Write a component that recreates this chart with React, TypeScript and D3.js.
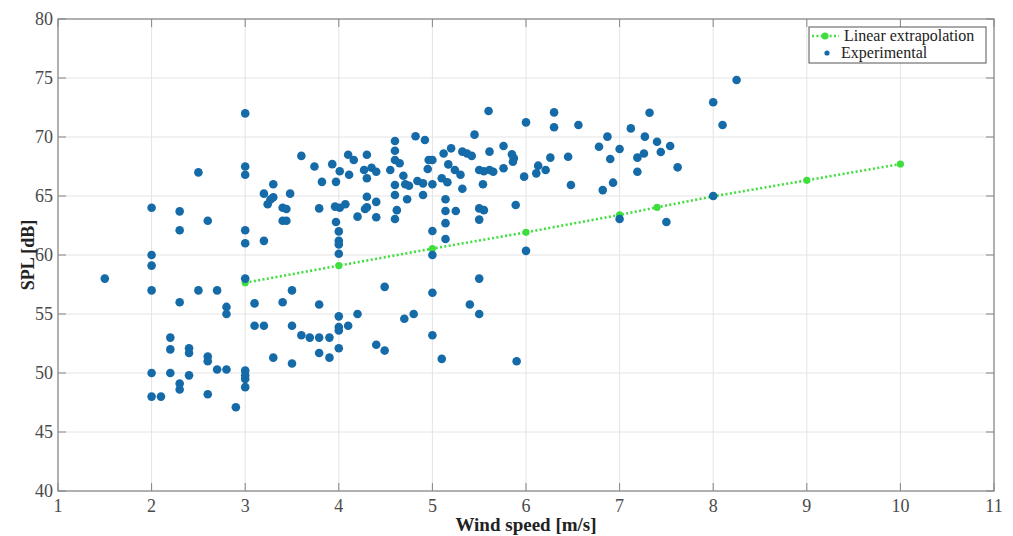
import React from "react";
import * as d3 from "d3";

// Experimental data: wind speed [m/s]
const expX: number[] = [
  1.5,
  2, 2, 2, 2, 2, 2,
  2.1,
  2.2, 2.2, 2.2,
  2.3, 2.3, 2.3, 2.3, 2.3,
  2.4, 2.4, 2.4,
  2.5, 2.5,
  2.6, 2.6, 2.6, 2.6,
  2.7, 2.7,
  2.8, 2.8, 2.8,
  2.9,
  3, 3, 3, 3, 3, 3, 3, 3, 3, 3,
  3.1, 3.1,
  3.2, 3.2, 3.2,
  3.3, 3.3, 3.27, 3.24, 3.3,
  3.4, 3.44, 3.4, 3.44, 3.4,
  3.48, 3.5, 3.5, 3.5,
  3.6, 3.6,
  3.69,
  3.74,
  3.79, 3.79, 3.79, 3.79,
  3.82,
  3.9, 3.9,
  3.93,
  3.97, 3.97,
  3.96, 4.01, 4.07,
  4.01,
  4, 4, 4, 4, 4, 4, 4, 4,
  4.1, 4.11, 4.1,
  4.16,
  4.2, 4.2,
  4.27, 4.3, 4.3, 4.3, 4.3, 4.28,
  4.35,
  4.4, 4.4, 4.4, 4.4,
  4.49, 4.49,
  4.55,
  4.6, 4.6, 4.6, 4.6, 4.6, 4.6,
  4.62, 4.65, 4.69, 4.71, 4.73, 4.7, 4.75, 4.8, 4.82, 4.84,
  4.9, 4.9, 4.92, 4.95, 4.96,
  5, 5, 5, 5, 5, 5,
  5.1, 5.1, 5.12,
  5.14, 5.14, 5.14, 5.14,
  5.16, 5.17, 5.2, 5.24, 5.25,
  5.32, 5.37, 5.42, 5.3, 5.32,
  5.4, 5.45,
  5.5, 5.5, 5.5, 5.5, 5.5,
  5.54, 5.55, 5.55,
  5.6, 5.61, 5.61, 5.65,
  5.76, 5.76,
  5.85, 5.87, 5.86,
  5.89, 5.9, 5.98,
  6, 6,
  6.11, 6.13, 6.21, 6.26,
  6.3, 6.3,
  6.45, 6.48, 6.56,
  6.78, 6.82, 6.87, 6.9, 6.93,
  7, 7,
  7.12, 7.19, 7.19, 7.26, 7.27, 7.32, 7.4, 7.44, 7.5, 7.54, 7.62,
  8, 8, 8.1, 8.25,
];

// Experimental data: SPL [dB]
const expY: number[] = [
  58,
  64, 60, 59.1, 57, 50, 48,
  48,
  53, 52, 50,
  63.7, 62.1, 56, 49.1, 48.6,
  52.1, 51.7, 49.8,
  67, 57,
  62.9, 51.4, 51.0, 48.2,
  57, 50.3,
  55.6, 55, 50.3,
  47.1,
  72, 67.5, 66.8, 62.1, 61, 58, 50.2, 49.8, 49.5, 48.8,
  55.9, 54,
  65.2, 61.2, 54,
  66, 64.9, 64.7, 64.3, 51.3,
  64, 63.9, 62.9, 62.9, 56,
  65.2, 57, 54, 50.8,
  68.4, 53.2,
  53,
  67.5,
  63.95, 55.8, 53, 51.7,
  66.2,
  53, 51.3,
  67.7,
  66.2, 62.8,
  64.1, 64.0, 64.3,
  67.1,
  62, 61.2, 60.9, 60.1, 54.8, 53.9, 53.6, 52.1,
  68.5, 66.8, 54,
  68.05,
  63.25, 55,
  67.2, 68.5, 66.5, 64.94, 64.04, 63.9,
  67.4,
  67.06, 64.5, 63.2, 52.4,
  57.3, 51.9,
  67.2,
  69.66, 68.84, 68.05, 65.93, 65.08, 63.05,
  63.8, 67.77, 66.72, 65.99, 64.72, 54.6, 65.87, 55, 70.06, 66.27,
  66.07, 65.08, 69.75, 67.29, 68.05,
  68.05, 65.99, 62.03, 60.0, 56.8, 53.2,
  66.5, 51.2, 68.6,
  64.72, 63.73, 62.7, 61.35,
  66.16, 67.68, 69.04, 67.2, 63.73,
  68.76, 68.6, 68.4, 66.8, 65.62,
  55.8, 70.2,
  67.2, 63.95, 63.0, 58, 55,
  66.0, 67.1, 63.8,
  72.2, 68.76, 67.2, 67.06,
  69.24, 67.35,
  68.53, 68.19, 67.9,
  64.24, 51, 66.64,
  71.24, 60.35,
  66.92, 67.57, 67.2, 68.25,
  72.09, 70.82,
  68.33, 65.93, 71.02,
  69.18, 65.5, 70.03, 68.14, 66.13,
  68.98, 63.05,
  70.73, 68.25, 67.06, 68.6, 70.03, 72.06, 69.6, 68.73, 62.8, 69.24, 67.43,
  72.94, 65.0, 71.02, 74.83,
];

// Linear extrapolation
const extrapX: number[] = [3, 4, 5, 6, 7, 7.4, 8, 9, 10];
const extrapY: number[] = [57.65, 59.1, 60.54, 61.92, 63.4, 64.04, 64.97, 66.33, 67.71];

const xTicks: number[] = [1, 2, 3, 4, 5, 6, 7, 8, 9, 10, 11];
const yTicks: number[] = [40, 45, 50, 55, 60, 65, 70, 75, 80];

const xLabel = "Wind speed [m/s]";
const yLabel = "SPL [dB]";
const legendLabels = ["Linear extrapolation", "Experimental"];

const W = 1013;
const H = 536;
const left = 58;
const right = 994;
const top = 19;
const bottom = 491;

const BLUE = "#156aa8";
const GREEN = "#3ede3e";
const AXIS = "#858585";
const GRID = "#e4e4e4";
const TICKTXT = "#4a4a4a";
const FONT = "'Liberation Serif', 'Times New Roman', serif";

export default function App() {
  const x = d3.scaleLinear().domain([1, 11]).range([left, right]);
  const y = d3.scaleLinear().domain([40, 80]).range([bottom, top]);

  const pts = expX.map((v, i) => [v, expY[i]] as [number, number]);
  const linePts = extrapX.map((v, i) => [v, extrapY[i]] as [number, number]);
  const line = d3
    .line<[number, number]>()
    .x((d) => x(d[0]))
    .y((d) => y(d[1]));

  const tickLen = 8;
  const lgX = 809;
  const lgY = 27;
  const lgW = 177;
  const lgH = 36;

  return (
    <svg
      width={W}
      height={H}
      style={{ position: "absolute", left: 0, top: 0, background: "#fff" }}
      fontFamily={FONT}
    >
      <rect x={0} y={0} width={W} height={H} fill="#fff" />
      {/* grid */}
      {xTicks.map((t) => (
        <line key={"gx" + t} x1={x(t)} x2={x(t)} y1={top} y2={bottom} stroke={GRID} strokeWidth={1} />
      ))}
      {yTicks.map((t) => (
        <line key={"gy" + t} x1={left} x2={right} y1={y(t)} y2={y(t)} stroke={GRID} strokeWidth={1} />
      ))}
      {/* ticks (inward, all four sides) */}
      {xTicks.map((t) => (
        <g key={"tx" + t}>
          <line x1={x(t)} x2={x(t)} y1={bottom} y2={bottom - tickLen} stroke={AXIS} strokeWidth={1} />
          <line x1={x(t)} x2={x(t)} y1={top} y2={top + tickLen} stroke={AXIS} strokeWidth={1} />
          <text x={x(t)} y={512} textAnchor="middle" fontSize={18} fill={TICKTXT}>
            {t}
          </text>
        </g>
      ))}
      {yTicks.map((t) => (
        <g key={"ty" + t}>
          <line x1={left} x2={left + tickLen} y1={y(t)} y2={y(t)} stroke={AXIS} strokeWidth={1} />
          <line x1={right} x2={right - tickLen} y1={y(t)} y2={y(t)} stroke={AXIS} strokeWidth={1} />
          <text x={53} y={y(t) + 6} textAnchor="end" fontSize={18} fill={TICKTXT}>
            {t}
          </text>
        </g>
      ))}
      {/* frame */}
      <rect x={left} y={top} width={right - left} height={bottom - top} fill="none" stroke={AXIS} strokeWidth={1.2} />

      {/* linear extrapolation */}
      <path
        d={line(linePts) || ""}
        fill="none"
        stroke={GREEN}
        strokeWidth={2.6}
        strokeDasharray="2 2.4"
      />
      {linePts.map((d, i) => (
        <circle key={"m" + i} cx={x(d[0])} cy={y(d[1])} r={3.6} fill={GREEN} />
      ))}

      {/* experimental */}
      {pts.map((d, i) => (
        <circle key={"p" + i} cx={x(d[0])} cy={y(d[1])} r={4.3} fill={BLUE} />
      ))}

      {/* axis labels */}
      <text x={(left + right) / 2} y={531} textAnchor="middle" fontSize={19} fontWeight="bold" fill="#222">
        {xLabel}
      </text>
      <text
        transform={`translate(30, ${(top + bottom) / 2}) rotate(-90)`}
        textAnchor="middle"
        dominantBaseline="middle"
        fontSize={18}
        fontWeight="bold"
        fill="#222"
      >
        {yLabel}
      </text>

      {/* legend */}
      <rect x={lgX} y={lgY} width={lgW} height={lgH} fill="#fff" stroke="#555" strokeWidth={1} />
      <line x1={lgX + 3} x2={lgX + 30} y1={lgY + 9} y2={lgY + 9} stroke={GREEN} strokeWidth={2.6} strokeDasharray="2 2.4" />
      <circle cx={lgX + 16} cy={lgY + 9} r={3.6} fill={GREEN} />
      <text x={lgX + 35} y={lgY + 14} fontSize={16} fill="#222">
        {legendLabels[0]}
      </text>
      <circle cx={lgX + 18} cy={lgY + 26} r={2.6} fill={BLUE} />
      <text x={lgX + 32} y={lgY + 31} fontSize={16} fill="#222">
        {legendLabels[1]}
      </text>
    </svg>
  );
}
